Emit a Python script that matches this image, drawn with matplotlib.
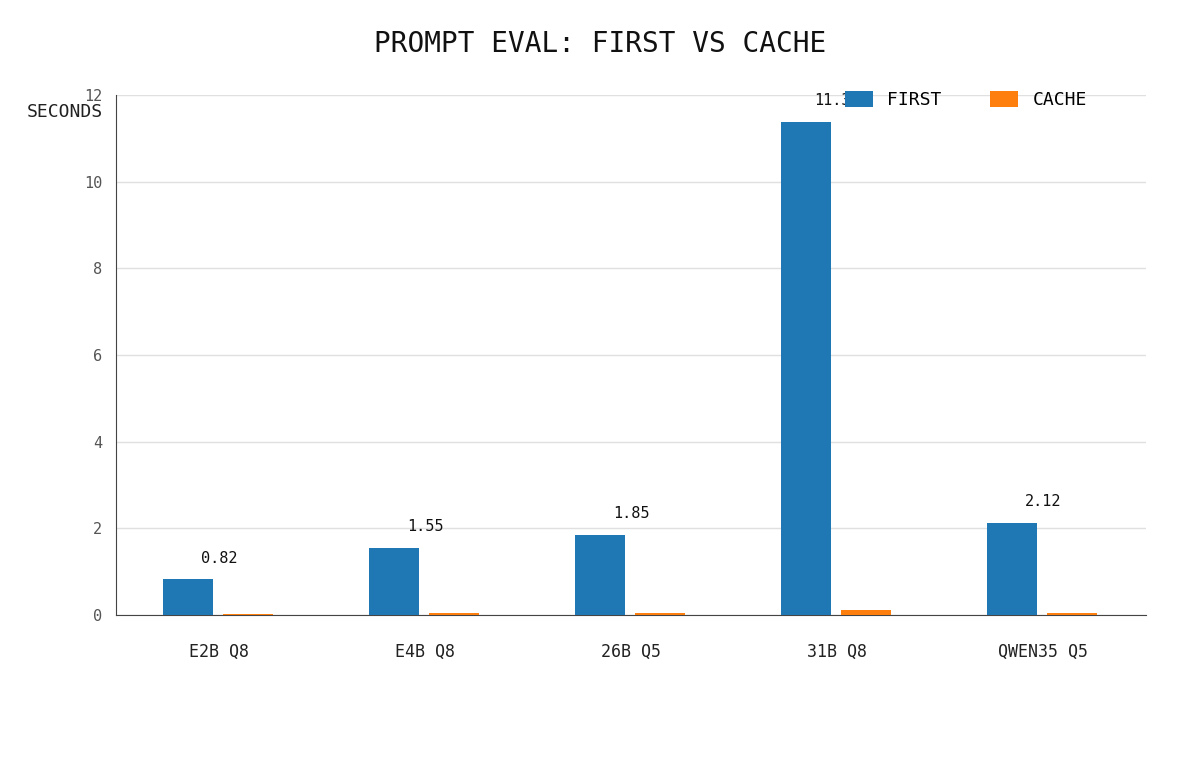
import matplotlib
matplotlib.use("Agg")
import matplotlib.pyplot as plt
import numpy as np

categories = ["E2B Q8", "E4B Q8", "26B Q5", "31B Q8", "QWEN35 Q5"]
first_vals = [0.82, 1.55, 1.85, 11.38, 2.12]
cache_vals = [0.03, 0.05, 0.05, 0.12, 0.05]
series_names = ["FIRST", "CACHE"]
yticks = [0, 2, 4, 6, 8, 10, 12]

plt.rcParams['font.family'] = ['DejaVu Sans Mono', 'DejaVu Sans']

fig = plt.figure(figsize=(12, 7.6), dpi=100)
ax = fig.add_axes([116/1200, 1-615/760, (1146-116)/1200, (615-95)/760])

x = np.arange(len(categories))
w = 0.243
off = 0.145
blue = "#1f77b4"
orange = "#ff7f0e"
b1 = ax.bar(x - off - 0.005, first_vals, w, color=blue, zorder=3, label=series_names[0])
b2 = ax.bar(x + off - 0.005, cache_vals, w, color=orange, zorder=3, label=series_names[1])

for xi, v in zip(x, first_vals):
    ax.annotate(f"{v:.2f}", (xi, v), xytext=(0, 10), textcoords="offset points",
                ha="center", va="bottom", fontsize=11, color="#111111", zorder=4)

ax.set_xlim(-0.5, len(categories) - 0.5)
ax.set_ylim(0, 12)
ax.set_yticks(yticks)
ax.set_yticklabels([str(t) for t in yticks], fontsize=11, color="#555555")
ax.set_xticks(x)
ax.set_xticklabels(categories, fontsize=12, color="#222222")
ax.tick_params(axis="x", length=0, pad=20)
ax.tick_params(axis="y", length=0, pad=10)
ax.grid(axis="y", color="#e0e0e0", lw=1, zorder=0)
ax.set_axisbelow(True)
for s in ["top", "right"]:
    ax.spines[s].set_visible(False)
ax.spines["left"].set_color("#444444")
ax.spines["bottom"].set_color("#444444")

fig.text(0.5, 1-44/760, "PROMPT EVAL: FIRST VS CACHE", ha="center", va="center",
         fontsize=20, color="#111111")
fig.text(103/1200, 1-112/760, "SECONDS", ha="right", va="center", fontsize=13, color="#222222")

fig.legend(handles=[b1, b2], loc="center left", bbox_to_anchor=(836/1200, 1-100/760),
           ncol=2, frameon=False, borderpad=0, fontsize=13, handlelength=1.55,
           handleheight=0.94, handletextpad=0.78, columnspacing=2.7)

fig.savefig("out.png", dpi=100)
